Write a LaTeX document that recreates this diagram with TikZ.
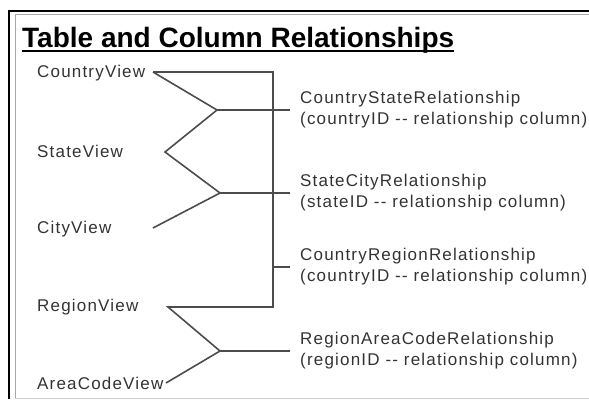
\documentclass[tikz,border=0pt]{standalone}
\usepackage{fontspec}
\setmainfont{Liberation Sans}
\newfontfamily\spacedfont[LetterSpace=7]{Liberation Sans}
\tikzset{view/.style={anchor=west,inner sep=0pt,text=black!80,font=\spacedfont\fontsize{17}{21}\selectfont},
    rel/.style={anchor=west,inner xsep=10pt,inner ysep=0pt,align=left,text=black!80,font=\spacedfont\fontsize{17}{21}\selectfont},
    link/.style={draw=black!70,line width=1.6pt}}

\begin{document}
\begin{tikzpicture}[x=1pt,y=-1pt]
        \useasboundingbox (0,0) rectangle (589,399);
        \draw[line width=2.5pt] (9,399) -- (9,11) -- (589,11);
        \draw[black!35,line width=0.8pt] (15,399) -- (15,14) -- (589,14);
        \draw[black!20,line width=0.8pt] (15,398) -- (589,398);
        \node[anchor=base west,inner sep=0pt,font=\bfseries\fontsize{28}{30}\selectfont] (title) at (22,47) {Table and Column Relationships};
        \draw[line width=1.6pt] ([yshift=-4pt]title.base west) -- ([yshift=-4pt]title.base east);

        \node[view] (country) at (37,73) {CountryView};
        \node[view] (state) at (37,151) {StateView};
        \node[view] (city) at (37,229) {CityView};
        \node[view] (region) at (37,307) {RegionView};
        \node[view] (area) at (37,383) {AreaCodeView};

        \node[rel] (csr) at (290,110) {CountryStateRelationship\\(countryID -{}- relationship column)};
        \node[rel] (scr) at (290,193) {StateCityRelationship\\(stateID -{}- relationship column)};
        \node[rel] (crr) at (290,267) {CountryRegionRelationship\\(countryID -{}- relationship column)};
        \node[rel] (racr) at (290,351) {RegionAreaCodeRelationship\\(regionID -{}- relationship column)};

        \coordinate (cT) at (153,72);
        \coordinate (sT) at (165,152);
        \coordinate (ciT) at (153,228);
        \coordinate (rT) at (168,307);
        \coordinate (aT) at (166,383);
        \coordinate (fA) at (217,110);
        \coordinate (fB) at (220,193);
        \coordinate (fD) at (220,351);
        \coordinate (busTop) at (273,72);
        \coordinate (busBot) at (273,307);
        \coordinate (busMid) at (273,267);

        \draw[link] (cT) -- (fA) -- (sT) -- (fB) -- (ciT);
        \draw[link] (fA) -- (csr.west);
        \draw[link] (fB) -- (scr.west);
        \draw[link] (cT) -- (busTop) -- (busBot) -- (rT) -- (fD) -- (aT);
        \draw[link] (busMid) -- (crr.west);
        \draw[link] (fD) -- (racr.west);
    \end{tikzpicture}
\end{document}
